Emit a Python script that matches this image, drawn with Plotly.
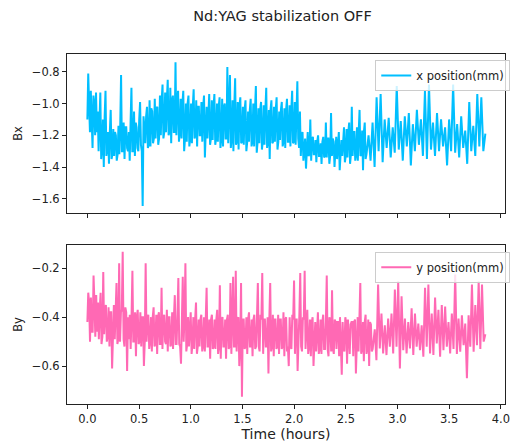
import numpy as np
import plotly.graph_objects as go

# ---------------- data ----------------
bx_dense = [
    -1.10, -0.81, -1.00, -1.18, -0.92, -1.18, -1.28, -0.95, -1.00, -1.20, -0.93, -1.18,
    -1.05, -1.30, -1.08, -0.93, -1.35, -1.28, -1.10, -1.40, -1.08, -0.92, -1.33, -1.28,
    -1.18, -1.38, -1.18, -1.04, -1.35, -1.32, -1.16, -1.33, -1.18, -1.20, -1.36, -1.32,
    -1.14, -1.32, -1.15, -0.82, -1.30, -1.30, -1.12, -1.35, -1.15, -1.15, -1.28, -1.30,
    -1.18, -1.36, -1.12, -0.90, -1.30, -1.30, -1.05, -1.33, -1.12, -1.15, -1.28, -1.30,
    -1.10, -0.99, -1.26, -1.30, -1.645, -1.08, -1.15, -1.25, -1.08, -1.02, -1.28, -1.26,
    -0.98, -1.27, -1.03, -1.05, -1.25, -1.22, -0.97, -1.22, -1.03, -1.02, -1.26, -1.22,
    -0.95, -1.20, -0.98, -0.88, -1.22, -1.18, -0.93, -1.18, -0.98, -0.85, -1.20, -1.18,
    -0.90, -1.25, -0.98, -0.95, -1.18, -1.18, -0.74, -1.20, -0.98, -0.92, -1.24, -1.18,
    -0.97, -1.22, -1.00, -0.92, -1.30, -1.22, -1.00, -1.24, -1.00, -0.95, -1.27, -1.22,
    -1.00, -1.25, -1.02, -0.91, -1.22, -1.20, -0.98, -1.27, -1.02, -1.02, -1.20, -1.20,
    -0.99, -1.24, -1.02, -0.95, -1.34, -1.22, -1.02, -1.22, -1.02, -0.94, -1.26, -1.22,
    -0.98, -1.23, -1.02, -0.94, -1.26, -1.22, -1.00, -1.24, -1.02, -0.96, -1.28, -1.22,
    -0.97, -1.27, -1.02, -1.00, -1.22, -1.22, -0.77, -1.25, -1.02, -0.82, -1.28, -1.22,
    -0.98, -1.30, -1.02, -0.84, -1.26, -1.24, -0.99, -1.29, -1.02, -0.96, -1.25, -1.24,
    -1.02, -1.26, -1.04, -0.98, -1.30, -1.24, -1.05, -1.24, -1.04, -0.97, -1.27, -1.24,
    -1.00, -1.27, -1.04, -0.89, -1.31, -1.24, -1.03, -1.25, -1.04, -0.99, -1.29, -1.24,
    -1.01, -1.26, -1.04, -0.90, -1.28, -1.24, -1.04, -1.35, -1.04, -0.98, -1.25, -1.24,
    -1.02, -1.24, -1.04, -0.96, -1.29, -1.24, -1.05, -1.23, -1.04, -0.99, -1.27, -1.24,
    -1.03, -1.28, -1.04, -0.97, -1.24, -1.24, -1.01, -1.27, -1.04, -0.92, -1.25, -1.24,
    -0.99, -1.26, -1.06, -0.86, -1.22, -1.28, -1.05, -1.33, -1.20, -1.18, -1.36, -1.28,
    -1.22, -1.41, -1.22, -1.18, -1.33, -1.32, -1.10, -1.36, -1.22, -1.21, -1.32, -1.32,
    -1.23, -1.37, -1.24, -1.20, -1.33, -1.33, -1.25, -1.38, -1.24, -1.21, -1.34, -1.33,
    -1.12, -1.34, -1.22, -1.22, -1.38, -1.33, -1.06, -1.33, -1.22, -1.24, -1.40, -1.33,
    -1.21, -1.35, -1.21, -1.18, -1.42, -1.33, -1.23, -1.33, -1.21, -1.15, -1.37, -1.33,
    -1.16, -1.34, -1.18, -1.12, -1.38, -1.32, -1.02, -1.33, -1.18, -1.18, -1.36, -1.32,
    -1.15, -1.36, -1.18, -1.04, -1.33, -1.32, -1.17, -1.42, -1.18, -1.12, -1.35, -1.32,
]
bx_sparse = [
    -1.20, -1.36, -1.12, -1.40, -0.96, -1.30, -0.94, -1.37, -1.10, -1.28,
    -1.09, -1.34, -1.15, -1.31, -0.89, -1.29, -1.11, -1.36, -1.08, -1.27,
    -1.06, -1.39, -1.13, -1.30, -1.04, -1.26, -1.10, -1.33, -0.92, -1.35,
    -0.88, -1.29, -1.12, -1.33, -1.06, -1.30, -1.10, -1.27, -1.15, -1.39,
    -1.10, -1.30, -0.88, -1.31, -1.13, -1.34, -1.08, -1.28, -1.17, -1.38,
    -0.99, -1.30, -1.14, -1.33, -0.94, -1.27, -0.96, -1.30, -1.19,
]
by_dense = [
    -0.42, -0.30, -0.34, -0.50, -0.32, -0.46, -0.46, -0.23, -0.34, -0.48, -0.31, -0.46,
    -0.34, -0.49, -0.37, -0.30, -0.51, -0.48, -0.215, -0.47, -0.37, -0.35, -0.50, -0.48,
    -0.36, -0.52, -0.38, -0.38, -0.61, -0.49, -0.35, -0.49, -0.38, -0.26, -0.51, -0.49,
    -0.18, -0.50, -0.38, -0.37, -0.133, -0.49, -0.52, -0.36, -0.38, -0.62, -0.40, -0.49,
    -0.39, -0.53, -0.40, -0.21, -0.50, -0.50, -0.38, -0.56, -0.40, -0.37, -0.51, -0.50,
    -0.38, -0.52, -0.40, -0.40, -0.60, -0.50, -0.18, -0.50, -0.40, -0.39, -0.53, -0.50,
    -0.40, -0.54, -0.40, -0.36, -0.52, -0.51, -0.39, -0.55, -0.40, -0.38, -0.51, -0.51,
    -0.28, -0.53, -0.40, -0.39, -0.50, -0.51, -0.37, -0.54, -0.40, -0.40, -0.52, -0.51,
    -0.38, -0.53, -0.40, -0.31, -0.51, -0.51, -0.39, -0.24, -0.51, -0.52, -0.59, -0.40,
    -0.235, -0.50, -0.40, -0.18, -0.54, -0.51, -0.40, -0.52, -0.40, -0.38, -0.55, -0.51,
    -0.40, -0.53, -0.41, -0.34, -0.55, -0.52, -0.41, -0.52, -0.41, -0.39, -0.54, -0.52,
    -0.40, -0.54, -0.41, -0.28, -0.52, -0.52, -0.41, -0.57, -0.41, -0.39, -0.53, -0.52,
    -0.41, -0.53, -0.41, -0.37, -0.55, -0.52, -0.27, -0.57, -0.41, -0.40, -0.52, -0.52,
    -0.41, -0.57, -0.41, -0.39, -0.53, -0.52, -0.26, -0.55, -0.41, -0.235, -0.52, -0.52,
    -0.21, -0.54, -0.41, -0.40, -0.60, -0.52, -0.26, -0.725, -0.41, -0.41, -0.53, -0.52,
    -0.40, -0.55, -0.41, -0.38, -0.52, -0.52, -0.41, -0.56, -0.41, -0.39, -0.53, -0.52,
    -0.40, -0.26, -0.52, -0.54, -0.39, -0.41, -0.22, -0.55, -0.41, -0.41, -0.52, -0.52,
    -0.40, -0.63, -0.41, -0.26, -0.54, -0.52, -0.39, -0.56, -0.41, -0.41, -0.53, -0.52,
    -0.39, -0.55, -0.41, -0.41, -0.53, -0.52, -0.38, -0.56, -0.41, -0.40, -0.54, -0.52,
    -0.60, -0.40, -0.52, -0.53, -0.39, -0.41, -0.25, -0.55, -0.41, -0.41, -0.62, -0.52,
    -0.39, -0.22, -0.52, -0.54, -0.40, -0.41, -0.21, -0.53, -0.41, -0.37, -0.55, -0.52,
    -0.41, -0.56, -0.42, -0.40, -0.60, -0.53, -0.42, -0.54, -0.42, -0.38, -0.55, -0.53,
    -0.41, -0.55, -0.42, -0.39, -0.53, -0.53, -0.42, -0.23, -0.53, -0.56, -0.40, -0.42,
    -0.54, -0.29, -0.53, -0.55, -0.41, -0.42, -0.53, -0.42, -0.42, -0.56, -0.40, -0.53,
    -0.635, -0.42, -0.53, -0.54, -0.40, -0.42, -0.59, -0.41, -0.53, -0.55, -0.43, -0.42,
    -0.42, -0.56, -0.42, -0.41, -0.63, -0.53, -0.40, -0.54, -0.42, -0.26, -0.55, -0.53,
    -0.42, -0.58, -0.42, -0.39, -0.55, -0.53, -0.41, -0.60, -0.42, -0.43, -0.54, -0.53,
]
by_sparse = [
    -0.45, -0.576, -0.267, -0.528, -0.385, -0.548, -0.433, -0.555, -0.406, -0.521,
    -0.385, -0.548, -0.287, -0.521, -0.253, -0.61, -0.315, -0.535, -0.406, -0.548,
    -0.42, -0.528, -0.364, -0.555, -0.385, -0.521, -0.426, -0.535, -0.433, -0.562,
    -0.28, -0.521, -0.267, -0.548, -0.385, -0.555, -0.32, -0.508, -0.37, -0.562,
    -0.35, -0.535, -0.357, -0.521, -0.42, -0.548, -0.385, -0.53, -0.226, -0.55,
    -0.406, -0.541, -0.392, -0.515, -0.426, -0.65, -0.392, -0.521, -0.267, -0.541,
    -0.35, -0.515, -0.253, -0.53, -0.267, -0.50, -0.47,
]
# time spans of each sampled segment (hours)
bx_dense_span = (0.0, 2.70)
bx_sparse_span = (2.72, 3.85)
by_dense_span = (0.0, 2.76)
by_sparse_span = (2.78, 3.85)

x_ticks = [0.0, 0.5, 1.0, 1.5, 2.0, 2.5, 3.0, 3.5, 4.0]
bx_ticks = [-1.6, -1.4, -1.2, -1.0, -0.8]
by_ticks = [-0.6, -0.4, -0.2]

# sample times (uniform sampling within each segment)
t_bx = np.concatenate([np.linspace(*bx_dense_span, len(bx_dense)),
                       np.linspace(*bx_sparse_span, len(bx_sparse))])
t_by = np.concatenate([np.linspace(*by_dense_span, len(by_dense)),
                       np.linspace(*by_sparse_span, len(by_sparse))])
bx = bx_dense + bx_sparse
by = by_dense + by_sparse

FONT = "DejaVu Sans"
AX = "#222222"

fig = go.Figure()
fig.add_trace(go.Scatter(x=t_bx, y=bx, mode="lines", name="x position(mm)",
                         line=dict(color="#00BFFF", width=2.0), showlegend=True,
                         xaxis="x", yaxis="y", legend="legend"))
fig.add_trace(go.Scatter(x=t_by, y=by, mode="lines", name="y position(mm)",
                         line=dict(color="#FF69B4", width=2.0), showlegend=True,
                         xaxis="x2", yaxis="y2", legend="legend2"))

axis_common = dict(showline=True, mirror=True, linecolor=AX, linewidth=1,
                   ticks="outside", ticklen=4, tickcolor=AX, tickwidth=1,
                   showgrid=False, zeroline=False,
                   tickfont=dict(family=FONT, size=11.5, color=AX))

legend_common = dict(xref="paper", yref="paper", x=1.012, xanchor="right", yanchor="top",
                     bgcolor="rgba(255,255,255,0.8)", bordercolor="#cccccc", borderwidth=1,
                     font=dict(family=FONT, size=11.5, color=AX), visible=True,
                     itemwidth=30)

fig.update_layout(
    width=518, height=448,
    margin=dict(l=67, r=8, t=54, b=44),
    paper_bgcolor="white", plot_bgcolor="white",
    font=dict(family=FONT, color=AX),
    showlegend=True,
    title=dict(text="Nd:YAG stabilization OFF", x=282.5 / 518, xanchor="center",
               xref="container", y=1 - 16 / 448, yref="container", yanchor="middle",
               font=dict(family=FONT, size=14.5, color=AX)),
    xaxis=dict(domain=[0, 1], anchor="y", range=[-0.197, 4.04],
               tickvals=x_ticks, showticklabels=False, **axis_common),
    yaxis=dict(domain=[0.5457, 1], anchor="x", range=[-1.69, -0.6875],
               tickvals=bx_ticks, tickformat=".1f", automargin=True,
               title=dict(text="Bx", font=dict(family=FONT, size=11.5, color=AX), standoff=6),
               **axis_common),
    xaxis2=dict(domain=[0, 1], anchor="y2", range=[-0.197, 4.04],
                tickvals=x_ticks, tickformat=".1f",
                title=dict(text="Time (hours)", font=dict(family=FONT, size=14, color=AX), standoff=4),
                **axis_common),
    yaxis2=dict(domain=[0, 0.4543], anchor="x2", range=[-0.755, -0.105],
                tickvals=by_ticks, tickformat=".1f", automargin=True,
                title=dict(text="By", font=dict(family=FONT, size=11.5, color=AX), standoff=6),
                **axis_common),
    legend=dict(y=0.983, **legend_common),
    legend2=dict(y=0.435, **legend_common),
)

fig.write_html("out.html")
